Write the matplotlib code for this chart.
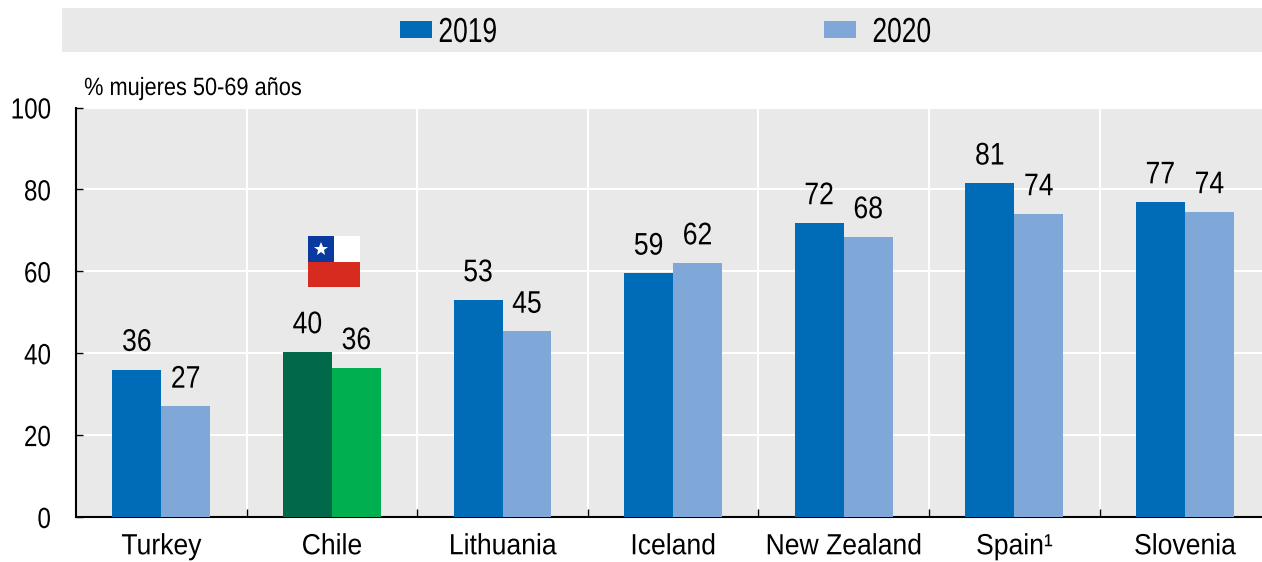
import matplotlib
matplotlib.use('Agg')
import matplotlib.pyplot as plt
import matplotlib.patheffects as pe
from matplotlib.patches import Rectangle
from matplotlib.transforms import Affine2D
import numpy as np

plt.rcParams['font.family'] = ['Liberation Sans', 'DejaVu Sans']

countries = ['Turkey', 'Chile', 'Lithuania', 'Iceland', 'New Zealand', 'Spain¹', 'Slovenia']
values_2019 = [36, 40.3, 53, 59.5, 71.8, 81.5, 76.9]
values_2020 = [27, 36.4, 45.3, 62, 68.4, 74, 74.5]
labels_2019 = ['36', '40', '53', '59', '72', '81', '77']
labels_2020 = ['27', '36', '45', '62', '68', '74', '74']
yticks = [0, 20, 40, 60, 80, 100]

W, H = 1262, 562
BLUE = '#006BB6'
LIGHT = '#7FA8D9'
DARK_GREEN = '#00694A'
GREEN = '#00B050'
GREY = '#E9E9E9'


class Condense(pe.AbstractPathEffect):
    # the reference text is squeezed sideways, no narrow font is installed
    def __init__(self, sx, anchor='center'):
        super().__init__()
        self.sx = sx
        self.anchor = anchor

    def draw_path(self, renderer, gc, tpath, affine, rgbFace=None):
        ext = tpath.get_extents()
        ref = {'left': ext.x0, 'center': (ext.x0 + ext.x1) / 2, 'right': ext.x1}[self.anchor]
        squeeze = Affine2D().translate(-ref, 0).scale(self.sx, 1).translate(ref, 0)
        renderer.draw_path(gc, tpath, squeeze + affine, rgbFace)


def box(x0, y0, x1, y1):
    # pixel box of the reference -> figure fractions
    return [x0 / W, 1 - y1 / H, (x1 - x0) / W, (y1 - y0) / H]


fig = plt.figure(figsize=(W / 100, H / 100), dpi=100, facecolor='white')
ax = fig.add_axes(box(76, 107.5, 1262, 517))
ax.set_facecolor(GREY)

x = np.arange(len(countries))
width = 0.287
colors_2019 = [DARK_GREEN if c == 'Chile' else BLUE for c in countries]
colors_2020 = [GREEN if c == 'Chile' else LIGHT for c in countries]
bars1 = ax.bar(x - width / 2, values_2019, width, color=colors_2019, zorder=3)
bars2 = ax.bar(x + width / 2, values_2020, width, color=colors_2020, zorder=3)

for bars, labels in ((bars1, labels_2019), (bars2, labels_2020)):
    for b, lab in zip(bars, labels):
        ax.annotate(lab, (b.get_x() + b.get_width() / 2, b.get_height()),
                    xytext=(0, 13.5), textcoords='offset points',
                    ha='center', va='baseline', fontsize=22.5, color='black',
                    path_effects=[Condense(0.85)])

ax.set_xlim(-0.5, -0.5 + 1186 / 170.6)
ax.set_ylim(0, 100)

# white grid, separators between the countries
ax.set_yticks(yticks)
ax.set_xticks(x[:-1] + 0.5, minor=True)
ax.set_xticks(x)
ax.set_xticklabels(countries)
ax.grid(True, axis='y', color='white', lw=1.5, zorder=1)
ax.grid(True, axis='x', which='minor', color='white', lw=1.5, zorder=1)
ax.tick_params(axis='x', which='major', length=0, labelsize=21, pad=11)
ax.tick_params(axis='x', which='minor', length=6, width=1, direction='in', color='black')
ax.tick_params(axis='y', length=5, width=1, direction='in', labelsize=21, pad=18)
for t in ax.get_xticklabels():
    t.set_path_effects([Condense(0.91)])
for t in ax.get_yticklabels():
    t.set_path_effects([Condense(0.83, 'right')])

for s in ('top', 'right'):
    ax.spines[s].set_visible(False)
for s in ('left', 'bottom'):
    ax.spines[s].set_linewidth(1.5)
    ax.spines[s].set_color('black')

fig.text(84 / W, 1 - 95 / H, '% mujeres 50-69 años', fontsize=18, va='baseline', ha='left',
         path_effects=[Condense(0.87, 'left')])

# legend band
fig.patches.append(Rectangle((62 / W, 1 - 52 / H), 1200 / W, 44 / H, transform=fig.transFigure,
                             facecolor=GREY, edgecolor='none', figure=fig))
fig.patches.append(Rectangle((400 / W, 1 - 38 / H), 32 / W, 17 / H, transform=fig.transFigure,
                             facecolor=BLUE, edgecolor='none', figure=fig))
fig.patches.append(Rectangle((824 / W, 1 - 38 / H), 32 / W, 17 / H, transform=fig.transFigure,
                             facecolor=LIGHT, edgecolor='none', figure=fig))
for xpos, lab in ((438, '2019'), (872, '2020')):
    fig.text(xpos / W, 1 - 42 / H, lab, fontsize=25, va='baseline', ha='left',
             path_effects=[Condense(0.76, 'left')])

# Chilean flag
flag = fig.add_axes(box(308, 236, 360, 287), zorder=5)
flag.set_xlim(0, 1)
flag.set_ylim(0, 1)
flag.axis('off')
flag.add_patch(Rectangle((0, 0), 1, 0.5, color='#D72B1F', lw=0))
flag.add_patch(Rectangle((0, 0.5), 1, 0.5, color='white', lw=0))
flag.add_patch(Rectangle((0, 0.5), 0.5, 0.5, color='#0A39A0', lw=0))
flag.plot([0.25], [0.75], marker='*', color='white', markersize=10, markeredgewidth=0)

fig.savefig('out.png', dpi=100)
